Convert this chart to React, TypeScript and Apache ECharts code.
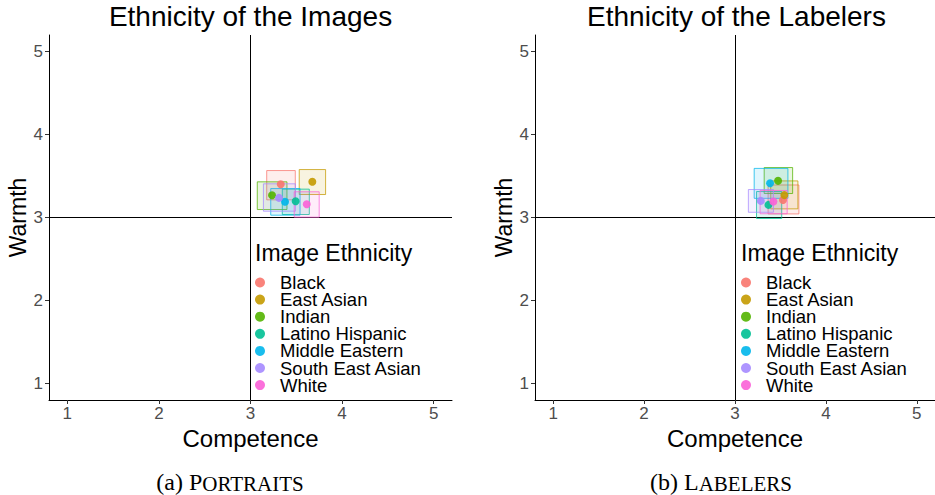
import React, { useEffect, useRef } from 'react';
import * as echarts from 'echarts';

const ethnicities = ['Black', 'East Asian', 'Indian', 'Latino Hispanic', 'Middle Eastern', 'South East Asian', 'White'];
const colors = ['#F8766D', '#C49A00', '#53B400', '#00C094', '#00B6EB', '#A58AFF', '#FB61D7'];
const ticks = [1, 2, 3, 4, 5];

// Panel (a): ethnicity of the images
const imgX = [3.33, 3.675, 3.235, 3.493, 3.377, 3.311, 3.614];
const imgY = [3.4, 3.43, 3.269, 3.196, 3.189, 3.237, 3.16];
const imgXmin = [3.177, 3.532, 3.074, 3.347, 3.221, 3.141, 3.477];
const imgXmax = [3.489, 3.82, 3.398, 3.642, 3.541, 3.49, 3.75];
const imgYmin = [3.213, 3.277, 3.096, 3.036, 3.028, 3.076, 3.004];
const imgYmax = [3.566, 3.578, 3.43, 3.342, 3.349, 3.406, 3.31];

// Panel (b): ethnicity of the labelers
const labX = [3.528, 3.543, 3.474, 3.368, 3.386, 3.284, 3.422];
const labY = [3.212, 3.27, 3.442, 3.152, 3.413, 3.2, 3.193];
const labXmin = [3.364, 3.393, 3.321, 3.237, 3.211, 3.147, 3.276];
const labXmax = [3.703, 3.692, 3.634, 3.514, 3.582, 3.423, 3.574];
const labYmin = [3.043, 3.104, 3.289, 2.988, 3.231, 3.063, 3.045];
const labYmax = [3.392, 3.441, 3.602, 3.313, 3.592, 3.337, 3.326];

const panelTitles = ['Ethnicity of the Images', 'Ethnicity of the Labelers'];
const captionPrefix = ['(a) P', '(b) L'];
const captionRest = ['ORTRAITS', 'ABELERS'];
const legendTitle = 'Image Ethnicity';

const SANS = '"Liberation Sans", Arial, Helvetica, sans-serif';
const SERIF = '"Liberation Serif", "Times New Roman", serif';

const panels = [
  { x: imgX, y: imgY, xmin: imgXmin, xmax: imgXmax, ymin: imgYmin, ymax: imgYmax },
  { x: labX, y: labY, xmin: labXmin, xmax: labXmax, ymin: labYmin, ymax: labYmax },
];

const GRID_LEFT = [49, 535];
const GRID_TOP = 35;
const GRID_W = 403;
const GRID_H = 365;

function rgba(hex: string, a: number) {
  const n = parseInt(hex.slice(1), 16);
  return `rgba(${(n >> 16) & 255},${(n >> 8) & 255},${n & 255},${a})`;
}

function buildOption() {
  const series: any[] = [];
  panels.forEach((p, pi) => {
    ethnicities.forEach((name, i) => {
      series.push({
        type: 'custom',
        name: name + ' interval ' + pi,
        xAxisIndex: pi,
        yAxisIndex: pi,
        z: 1,
        silent: true,
        data: [[p.xmin[i], p.xmax[i], p.ymin[i], p.ymax[i]]],
        encode: { x: [0, 1], y: [2, 3] },
        renderItem: (params: any, api: any) => {
          const a = api.coord([api.value(0), api.value(3)]);
          const b = api.coord([api.value(1), api.value(2)]);
          return {
            type: 'rect',
            shape: { x: a[0], y: a[1], width: b[0] - a[0], height: b[1] - a[1] },
            style: { fill: rgba(colors[i], 0.12), stroke: rgba(colors[i], 0.75), lineWidth: 1 },
          };
        },
      });
    });
  });
  panels.forEach((p, pi) => {
    ethnicities.forEach((name, i) => {
      const s: any = {
        type: 'scatter',
        name,
        xAxisIndex: pi,
        yAxisIndex: pi,
        z: 3,
        symbol: 'circle',
        symbolSize: 8,
        itemStyle: { color: colors[i], opacity: 0.9 },
        color: colors[i],
        data: [[p.x[i], p.y[i]]],
      };
      if (i === 0) {
        s.markLine = {
          silent: true,
          symbol: ['none', 'none'],
          label: { show: false },
          lineStyle: { color: '#000', width: 1, type: 'solid', opacity: 1 },
          emphasis: { disabled: true },
          data: [{ xAxis: 3 }, { yAxis: 3 }],
          z: 0,
        };
      }
      series.push(s);
    });
  });

  const axisCommon = (pi: number) => ({
    type: 'value',
    gridIndex: pi,
    min: 0.8,
    max: 5.2,
    splitLine: { show: false },
    axisLine: { show: true, onZero: false, lineStyle: { color: '#000', width: 1 } },
    axisTick: { show: true, customValues: ticks, length: 4, lineStyle: { color: '#333', width: 1 } },
  });

  const graphic: any[] = [];
  panelTitles.forEach((t, pi) => {
    const cx = GRID_LEFT[pi] + GRID_W / 2;
    graphic.push({
      type: 'text',
      x: cx,
      y: 16,
      style: { text: t, fontSize: 28, fontFamily: SANS, fill: '#000', textAlign: 'center', textVerticalAlign: 'middle' },
    });
    graphic.push({
      type: 'text',
      x: GRID_LEFT[pi] + 206,
      y: 253,
      style: { text: legendTitle, fontSize: 23, fontFamily: SANS, fill: '#000', textAlign: 'left', textVerticalAlign: 'middle' },
    });
  });
  const capX = [230, 721];
  captionPrefix.forEach((c, pi) => {
    graphic.push({
      type: 'text',
      x: capX[pi],
      y: 481,
      style: {
        text: `{a|${c}}{b|${captionRest[pi]}}`,
        textAlign: 'center',
        textVerticalAlign: 'middle',
        rich: {
          a: { fontSize: 24, fontFamily: SERIF, fill: '#000', verticalAlign: 'bottom', lineHeight: 26 },
          b: { fontSize: 21, fontFamily: SERIF, fill: '#000', verticalAlign: 'bottom', lineHeight: 26 },
        },
      },
    });
  });

  return {
    animation: false,
    backgroundColor: '#fff',
    grid: GRID_LEFT.map((l) => ({ left: l, top: GRID_TOP, width: GRID_W, height: GRID_H, containLabel: false })),
    xAxis: [0, 1].map((pi) => ({
      ...axisCommon(pi),
      axisLabel: { customValues: ticks, fontSize: 17, color: '#4D4D4D', margin: 5, fontFamily: SANS },
      name: 'Competence',
      nameLocation: 'middle',
      nameGap: 23,
      nameTextStyle: { fontSize: 24, color: '#000', fontFamily: SANS },
    })),
    yAxis: [0, 1].map((pi) => ({
      ...axisCommon(pi),
      axisLabel: { customValues: ticks, fontSize: 17, color: '#4D4D4D', margin: 6, fontFamily: SANS },
      name: 'Warmth',
      nameLocation: 'middle',
      nameGap: 18,
      nameTextStyle: { fontSize: 23, color: '#000', fontFamily: SANS },
    })),
    legend: GRID_LEFT.map((l) => ({
      orient: 'vertical',
      left: l + 206,
      top: 273,
      data: ethnicities,
      icon: 'circle',
      itemWidth: 10,
      itemHeight: 10,
      itemGap: -1.9,
      padding: 0,
      selectedMode: false,
      textStyle: { fontSize: 18.5, color: '#000', fontFamily: SANS, lineHeight: 17.2, padding: [0, 0, 0, 10] },
    })),
    graphic,
    series,
  };
}

export default function App() {
  const ref = useRef<HTMLDivElement>(null);
  useEffect(() => {
    document.body.style.margin = '0';
    const chart = echarts.init(ref.current!, null, { renderer: 'svg' });
    chart.setOption(buildOption() as any);
    return () => chart.dispose();
  }, []);
  return <div ref={ref} style={{ width: 935, height: 495 }} />;
}
